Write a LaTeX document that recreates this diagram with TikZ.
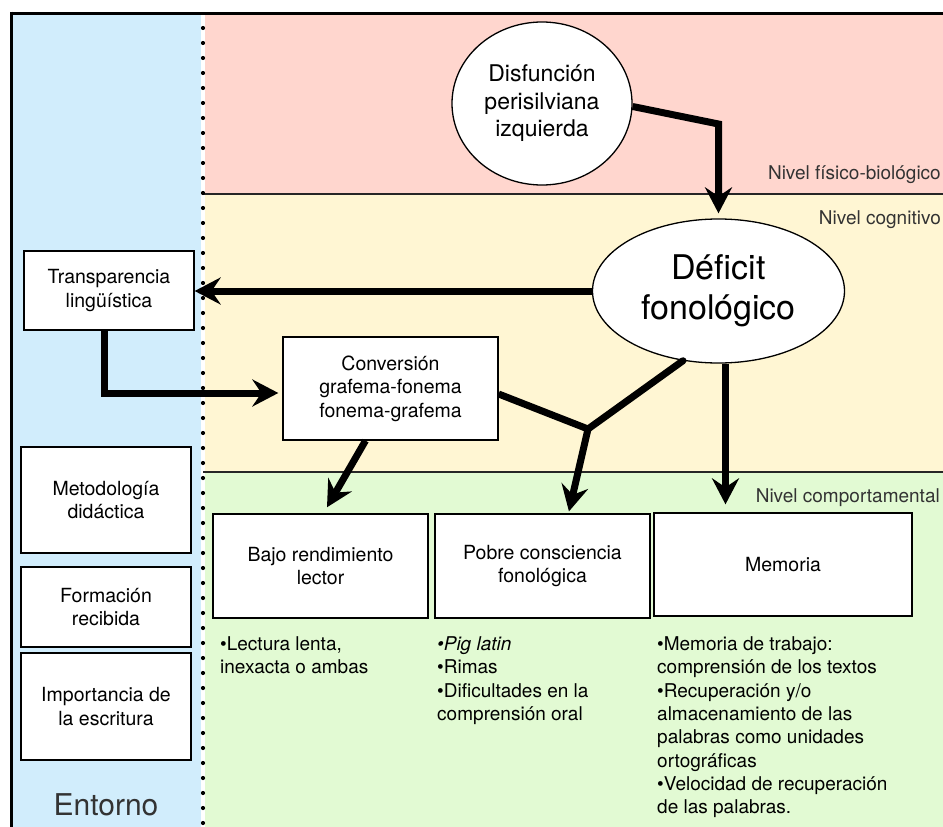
\documentclass[tikz,border=0pt]{standalone}
\usepackage{fontspec}
\setmainfont{TeX Gyre Heros}
\usetikzlibrary{arrows.meta,shapes.geometric}
\definecolor{entornoblue}{HTML}{D1EDFC}
\definecolor{biopink}{HTML}{FFD6CE}
\definecolor{cogyellow}{HTML}{FFF6D3}
\definecolor{compgreen}{HTML}{E2FAD3}
\definecolor{labelgray}{HTML}{333333}

\begin{document}
\begin{tikzpicture}[x=1pt,y=-1pt,
  box/.style={draw=black, line width=1.3pt, fill=white, align=center, inner sep=0pt,
              font=\fontsize{19.5}{23.5}\selectfont},
  oval/.style={ellipse, draw=black, line width=1.3pt, fill=white, align=center, inner sep=0pt},
  arr/.style={line width=7pt, -{Stealth[length=26pt,width=27pt,inset=9pt]}},
  link/.style={line width=7pt, line cap=round},
  level/.style={anchor=base east, text=labelgray, inner sep=0pt, font=\fontsize{19}{23}\selectfont},
  notes/.style={anchor=north west, align=left, inner sep=0pt, font=\fontsize{19}{23.3}\selectfont}]

\useasboundingbox (0,0) rectangle (943,827);
\fill[white] (0,0) rectangle (943,827);

% background bands
\fill[entornoblue] (12,13) rectangle (201,827);
\fill[biopink]     (205,13) rectangle (943,194);
\fill[cogyellow]   (205,194) rectangle (943,472);
\fill[compgreen]   (205,472) rectangle (943,827);
\draw[line width=1.2pt, black!85] (203,194) -- (943,194);
\draw[line width=1.2pt, black!85] (203,472) -- (943,472);

% outer frame (top and left)
\draw[line width=3pt] (11.5,13) -- (943,13);
\draw[line width=3pt] (11.5,11.5) -- (11.5,827);

% dotted separator
\foreach \yy in {28,43,...,823} \fill (203,\yy) circle (2.1);

% level labels
\node[level] (lbio) at (941,179) {Nivel físico-biológico};
\node[level] (lcog) at (941,224) {Nivel cognitivo};
\node[level] (lcomp) at (940,502) {Nivel comportamental};

% main nodes
\node[oval, minimum width=180pt, minimum height=163pt, font=\fontsize{23}{27.5}\selectfont]
  (dis) at (542,103.5) {Disfunción\\perisilviana\\izquierda};
\node[oval, minimum width=252pt, minimum height=144pt, font=\fontsize{34}{40}\selectfont]
  (def) at (718.5,291) {Déficit\\fonológico};

\node[box, minimum width=170pt, minimum height=79pt]  (trans) at (109,290.5) {Transparencia\\lingüística};
\node[box, minimum width=215pt, minimum height=103pt] (conv)  at (390.5,388.5) {Conversión\\grafema-fonema\\fonema-grafema};
\node[box, minimum width=170pt, minimum height=106pt] (meto)  at (106,500) {Metodología\\didáctica};
\node[box, minimum width=170pt, minimum height=80pt]  (form)  at (106,607) {Formación\\recibida};
\node[box, minimum width=170pt, minimum height=107pt] (impo)  at (106,706.5) {Importancia de\\la escritura};
\node[box, minimum width=215pt, minimum height=104pt] (bajo)  at (320.5,566) {Bajo rendimiento\\lector};
\node[box, minimum width=215pt, minimum height=104pt] (pobre) at (542.5,566) {Pobre consciencia\\fonológica};
\node[box, minimum width=258pt, minimum height=103pt] (mem)   at (783,564.5) {Memoria};

\node[text=labelgray, font=\fontsize{30}{30}\selectfont, anchor=base, inner sep=0pt]
  (ent) at (106,815) {Entorno};

% descriptive notes
\node[notes] (n1) at (220,636.5) {•Lectura lenta,\\inexacta o ambas};
\node[notes] (n2) at (437,636.5) {\textit{•Pig latin}\\•Rimas\\•Dificultades en la\\comprensión oral};
\node[notes] (n3) at (657,636.5) {•Memoria de trabajo:\\comprensión de los textos\\•Recuperación y/o\\almacenamiento de las\\palabras como unidades\\ortográficas\\•Velocidad de recuperación\\de las palabras.};

% connectors
\coordinate (bend) at (def.north |- 0,124);
\draw[arr, shorten >=5pt] ([yshift=-3pt]dis.east) -- (bend) -- (def.north);
\draw[arr] (def.west) -- (def.west -| trans.east);
\draw[arr, shorten >=4pt] ([xshift=-5pt]trans.south) |- ([yshift=-4.5pt]conv.west);
\draw[arr, shorten >=7pt] ([xshift=-25pt]conv.south) -- ([xshift=3pt]bajo.north);
\coordinate (jn) at (588,429);
\draw[link] (def.243) -- (jn);
\draw[arr, shorten >=2pt] ([yshift=-5.5pt]conv.east) -- (jn) -- ([xshift=26pt]pobre.north);
\coordinate (dm) at ([xshift=7pt]def.south);
\draw[arr, shorten >=8pt] (dm) -- (dm |- mem.north);

\end{tikzpicture}
\end{document}
